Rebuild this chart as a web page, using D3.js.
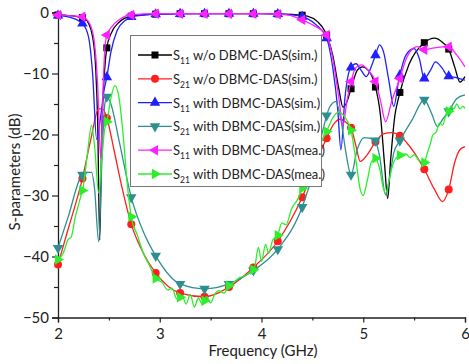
<!DOCTYPE html>
<html>
<head>
<meta charset="utf-8">
<script src="https://cdn.jsdelivr.net/npm/d3@7"></script>
<style>
  body { margin: 0; background: #fff; }
  text { font-family: Lato, 'Open Sans', sans-serif; }
</style>
</head>
<body>
<svg id="chart" width="469" height="364"></svg>
<script>
// frequency (GHz), dB
const s11WoSim = [[2.0,-0.4],[2.1,-0.5],[2.2,-0.7],[2.25,-0.9],[2.3,-1.8],[2.34,-4],[2.37,-9],[2.39,-18],[2.41,-37.3],[2.43,-20],[2.46,-9],[2.48,-5.8],[2.52,-3.5],[2.6,-1.6],[2.72,-0.6],[2.9,-0.3],[3.2,-0.2],[3.6,-0.2],[4.0,-0.2],[4.3,-0.3],[4.45,-0.6],[4.55,-1.5],[4.62,-3],[4.7,-7],[4.76,-12.5],[4.8,-15.5],[4.83,-15],[4.88,-12.5],[4.94,-9.5],[4.99,-8.9],[5.05,-9.5],[5.11,-11.6],[5.17,-17],[5.21,-25],[5.24,-30.5],[5.27,-24],[5.31,-17],[5.35,-13.8],[5.45,-8.5],[5.6,-4.95],[5.7,-4.2],[5.78,-4.9],[5.84,-6],[5.9,-9],[5.95,-11.4],[6.0,-10.5]];
const s21WoSim = [[2.0,-41.3],[2.1,-35.5],[2.24,-27.2],[2.32,-21],[2.4,-15.8],[2.44,-15.8],[2.48,-17.3],[2.55,-22.5],[2.62,-28],[2.72,-34.7],[2.84,-39.5],[2.96,-42.7],[3.2,-46],[3.44,-46.6],[3.68,-45],[3.92,-41.8],[4.16,-37.5],[4.4,-30.3],[4.55,-24],[4.64,-20.6],[4.71,-18.3],[4.77,-17.5],[4.83,-18],[4.88,-18.9],[4.93,-22],[4.97,-24.4],[5.04,-23.3],[5.12,-21.2],[5.2,-19.9],[5.28,-19.7],[5.36,-20.2],[5.45,-21.8],[5.6,-25.7],[5.7,-29],[5.78,-31],[5.84,-29],[5.9,-24.5],[5.95,-22.5],[6.0,-22]];
const s11WithSim = [[2.0,-0.5],[2.1,-0.7],[2.24,-1.8],[2.3,-4],[2.34,-10],[2.38,-20.8],[2.42,-17],[2.45,-13],[2.48,-10.6],[2.52,-6.5],[2.58,-3],[2.66,-1.3],[2.75,-0.6],[2.96,-0.3],[3.4,-0.2],[4.0,-0.2],[4.3,-0.4],[4.45,-1],[4.55,-2.2],[4.64,-4.2],[4.7,-9],[4.75,-16],[4.78,-22.5],[4.82,-14],[4.87,-9.3],[4.93,-8.4],[4.98,-9.5],[5.03,-10.5],[5.08,-8.8],[5.12,-7],[5.16,-5.3],[5.2,-6.5],[5.25,-11],[5.3,-15.4],[5.35,-11],[5.42,-7],[5.5,-5.9],[5.55,-7.5],[5.6,-10.8],[5.66,-9.5],[5.71,-8.1],[5.77,-9],[5.83,-10.4],[5.92,-10.7],[6.0,-11.1]];
const s21WithSim = [[2.0,-38.6],[2.1,-33.5],[2.23,-26.8],[2.29,-26.2],[2.33,-26.2],[2.36,-29],[2.4,-37.6],[2.43,-25],[2.46,-15],[2.48,-13.8],[2.52,-15],[2.6,-21],[2.72,-30.3],[2.84,-36],[2.96,-39.9],[3.2,-44.5],[3.44,-45.3],[3.68,-44.5],[3.92,-42.3],[4.16,-38.8],[4.4,-31.9],[4.52,-25.5],[4.6,-19.5],[4.67,-15.5],[4.73,-14.6],[4.78,-17.5],[4.83,-23],[4.88,-26.6],[4.94,-22.5],[5.01,-20.5],[5.11,-20.8],[5.16,-23.5],[5.22,-29.9],[5.26,-27],[5.3,-23],[5.36,-21],[5.48,-17.6],[5.6,-14.3],[5.67,-16.5],[5.73,-18.7],[5.78,-17.5],[5.84,-16.2],[5.92,-14.1],[6.0,-13.5]];
const s11WithMea = [[2.0,-0.4],[2.1,-0.5],[2.24,-0.7],[2.3,-1.5],[2.35,-4],[2.39,-12],[2.42,-24],[2.44,-14],[2.46,-6],[2.48,-3.7],[2.53,-2.3],[2.6,-1.2],[2.72,-0.4],[2.96,-0.2],[3.4,-0.2],[4.0,-0.2],[4.25,-0.4],[4.4,-1.2],[4.52,-2.2],[4.64,-3.7],[4.7,-7.5],[4.76,-14],[4.8,-18.5],[4.84,-14.5],[4.88,-11.3],[4.93,-9],[4.98,-8.6],[5.05,-9.5],[5.12,-11.3],[5.17,-14.5],[5.22,-17.9],[5.28,-14.5],[5.35,-11.3],[5.43,-7.3],[5.53,-5.6],[5.6,-6.1],[5.7,-5.8],[5.84,-5.6],[5.92,-7],[6.0,-8.9]];
const s21WithMea = [[2.0,-40.5],[2.05,-39.5],[2.1,-37.2],[2.13,-36.8],[2.17,-33.5],[2.21,-31],[2.25,-28.3],[2.29,-23],[2.33,-18.5],[2.36,-22],[2.4,-29.6],[2.43,-24],[2.46,-19],[2.48,-17.9],[2.52,-14],[2.56,-12],[2.6,-14],[2.64,-20],[2.68,-28],[2.72,-33.5],[2.78,-36.5],[2.84,-39.5],[2.9,-41.5],[2.96,-43.6],[3.02,-44.2],[3.08,-45.5],[3.12,-45.2],[3.17,-47],[3.22,-46.5],[3.26,-47.8],[3.3,-46.2],[3.34,-48.3],[3.38,-46.8],[3.42,-47.9],[3.46,-46.6],[3.5,-47.6],[3.54,-46.2],[3.58,-45.6],[3.63,-46],[3.68,-44.8],[3.73,-44.2],[3.78,-43.5],[3.83,-43.2],[3.88,-42.7],[3.93,-41.9],[3.97,-38.5],[4.0,-40.8],[4.04,-38],[4.07,-39.5],[4.11,-37.3],[4.16,-36.5],[4.2,-34.5],[4.24,-34.8],[4.3,-32],[4.35,-30.8],[4.4,-28.8],[4.46,-26],[4.52,-23.8],[4.58,-21.5],[4.64,-19.5],[4.7,-17.3],[4.76,-16.3],[4.82,-17.2],[4.88,-19.3],[4.93,-24.5],[4.97,-29],[5.0,-30],[5.04,-27.5],[5.08,-24.5],[5.12,-23.9],[5.16,-25.5],[5.2,-29],[5.22,-29.6],[5.26,-27],[5.3,-24.5],[5.36,-23.4],[5.42,-23.2],[5.46,-23.8],[5.5,-23.3],[5.55,-24.3],[5.6,-24.6],[5.63,-23],[5.66,-21.5],[5.68,-20.2],[5.72,-19.5],[5.75,-18.1],[5.78,-18.5],[5.81,-17],[5.84,-16.2],[5.86,-15.3],[5.89,-15.8],[5.92,-15],[5.95,-15.8],[5.98,-15.4],[6.0,-15.7]];

const markerFreqs = [2.0,2.24,2.48,2.72,2.96,3.2,3.44,3.68,3.92,4.16,4.4,4.64,4.88,5.12,5.36,5.6,5.84];
const freqTicks = [2,3,4,5,6];
const dbTicks = [0,-10,-20,-30,-40,-50];

const series = [
  { sub: '11', name: ' w/o DBMC-DAS(sim.)', data: s11WoSim, color: '#000000', shape: 'square' },
  { sub: '21', name: ' w/o DBMC-DAS(sim.)', data: s21WoSim, color: '#ff1f1f', shape: 'circle' },
  { sub: '11', name: ' with DBMC-DAS(sim.)', data: s11WithSim, color: '#1f1fff', shape: 'up' },
  { sub: '21', name: ' with DBMC-DAS(sim.)', data: s21WithSim, color: '#2f8f8f', shape: 'down' },
  { sub: '11', name: ' with DBMC-DAS(mea.)', data: s11WithMea, color: '#ff1fff', shape: 'left' },
  { sub: '21', name: ' with DBMC-DAS(mea.)', data: s21WithMea, color: '#2bef2b', shape: 'right' }
];

const svg = d3.select('#chart');
const x = d3.scaleLinear().domain([2, 6]).range([58, 465]);
const y = d3.scaleLinear().domain([0, -50]).range([12.5, 317.5]);

function drawMarker(g, shape, color, cx, cy) {
  if (shape === 'square') {
    g.append('rect').attr('x', cx - 3.5).attr('y', cy - 3.5).attr('width', 7).attr('height', 7).attr('fill', color);
  } else if (shape === 'circle') {
    g.append('circle').attr('cx', cx).attr('cy', cy).attr('r', 4).attr('fill', color);
  } else {
    const rot = { up: 0, down: 180, left: -90, right: 90 }[shape];
    g.append('path')
      .attr('d', d3.symbol().type(d3.symbolTriangle).size(48)())
      .attr('transform', `translate(${cx},${cy}) rotate(${rot})`)
      .attr('fill', color);
  }
}

function yAtX(node, px) {
  let lo = 0, hi = node.getTotalLength();
  for (let i = 0; i < 40; i++) {
    const mid = (lo + hi) / 2;
    if (node.getPointAtLength(mid).x < px) lo = mid; else hi = mid;
  }
  return node.getPointAtLength((lo + hi) / 2).y;
}

// axes
const xAxis = svg.append('g').attr('transform', `translate(0,${y(-50)})`)
  .call(d3.axisBottom(x).tickValues(freqTicks).tickSize(5).tickPadding(4).tickFormat(d3.format('d')));
svg.append('g').attr('transform', `translate(0,${y(-50)})`)
  .call(d3.axisBottom(x).tickValues([2.5, 3.5, 4.5, 5.5]).tickSize(3).tickFormat(''))
  .select('.domain').remove();
const yAxis = svg.append('g').attr('transform', `translate(${x(2)},0)`)
  .call(d3.axisLeft(y).tickValues(dbTicks).tickSize(6).tickPadding(3).tickFormat(d3.format('d')));
svg.append('g').attr('transform', `translate(${x(2)},0)`)
  .call(d3.axisLeft(y).tickValues([-5, -15, -25, -35, -45]).tickSize(4).tickFormat(''))
  .select('.domain').remove();
svg.selectAll('.domain').attr('stroke', '#222').attr('stroke-width', 1.3);
svg.selectAll('.tick line').attr('stroke', '#222').attr('stroke-width', 1.2);
svg.selectAll('.tick text').attr('font-size', 15).attr('fill', '#222')
  .style('font-family', "Lato, 'Open Sans', sans-serif");
xAxis.selectAll('.tick text').attr('dy', '0.8em');

svg.append('text').attr('x', 263).attr('y', 356).attr('text-anchor', 'middle')
  .attr('font-size', 15).attr('fill', '#222').text('Frequency (GHz)');
svg.append('text').attr('transform', 'translate(20,172) rotate(-90)').attr('text-anchor', 'middle')
  .attr('font-size', 15).attr('fill', '#222').text('S-parameters (dB)');

// curves
const line = d3.line().x(d => x(d[0])).y(d => y(d[1])).curve(d3.curveMonotoneX);
const plot = svg.append('g');
series.forEach(s => {
  const g = plot.append('g');
  const p = g.append('path').attr('d', line(s.data)).attr('fill', 'none')
    .attr('stroke', s.color).attr('stroke-width', 1.3);
  markerFreqs.forEach(f => {
    const px = x(f);
    drawMarker(g, s.shape, s.color, px, yAtX(p.node(), px));
  });
});

// legend
const legend = svg.append('g');
legend.append('rect').attr('x', 130.5).attr('y', 35.5).attr('width', 191).attr('height', 151)
  .attr('fill', '#fff').attr('stroke', '#777').attr('stroke-width', 1);
series.forEach((s, i) => {
  const ly = 55 + i * 23.8;
  legend.append('line').attr('x1', 138).attr('x2', 172).attr('y1', ly).attr('y2', ly)
    .attr('stroke', s.color).attr('stroke-width', 1.3);
  drawMarker(legend, s.shape, s.color, 155, ly);
  const t = legend.append('text').attr('x', 173).attr('y', ly + 5).attr('font-size', 13).attr('fill', '#222');
  t.append('tspan').text('S');
  t.append('tspan').attr('font-size', 8.5).attr('dy', 4).text(s.sub);
  t.append('tspan').attr('dy', -4).text(s.name);
});
</script>
</body>
</html>
